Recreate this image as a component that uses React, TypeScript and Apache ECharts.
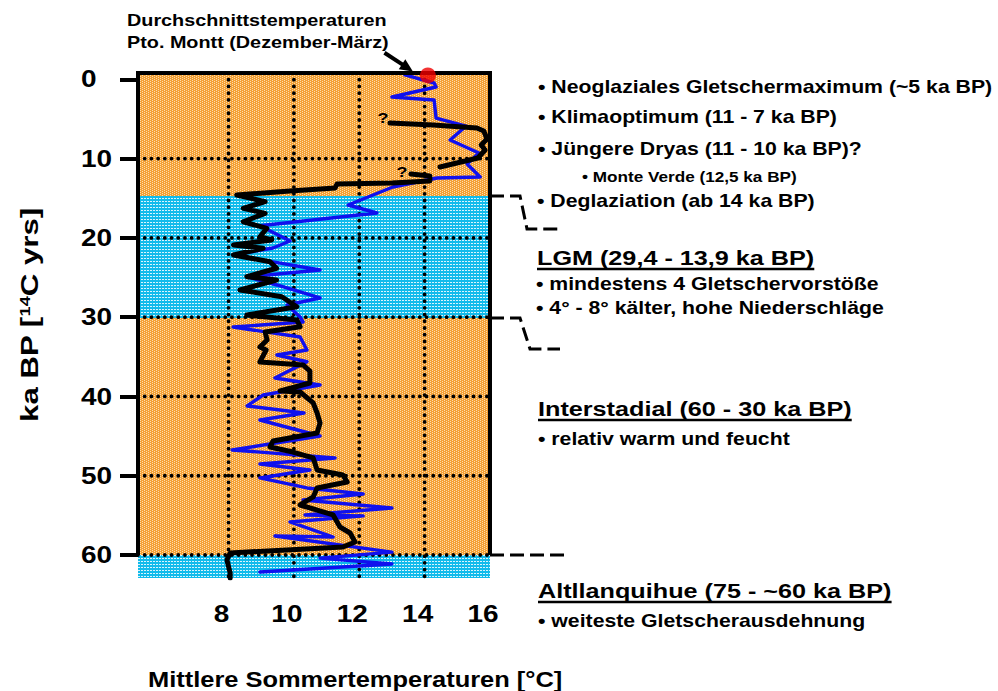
import React, { useEffect, useRef } from 'react';
import * as echarts from 'echarts';

// ---- axes ----------------------------------------------------------------
const tempMin = 5.23;
const tempMax = 16;
const ageMin = -0.8;
const ageMax = 62.9;
const tempTicks = [8, 10, 12, 14, 16];
const ageTicks = [0, 10, 20, 30, 40, 50, 60];
const tempGrid = [8, 10, 12, 14];
const ageGrid = [10, 20, 30, 40, 50, 60];
const frameBottom = 60;

// ---- climate zones (ka BP) -------------------------------------------------
const zoneFrom = [ageMin, 14.7, 30.1, 60.0];
const zoneTo = [14.7, 30.1, 60.0, ageMax];
const zoneCold = [0, 1, 0, 1];

// ---- blue curve: summer temperature [°C] vs. age [ka BP] -------------------
const blueTemp = [13.40, 14.29, 14.35, 13.00, 14.29, 14.35, 15.27, 14.78, 15.66, 15.30, 15.70, 14.38, 13.03, 11.66, 12.54, 8.96, 9.88, 9.36, 8.14, 10.80, 8.57, 9.48, 10.80, 9.79, 10.19, 10.28, 8.14, 10.19, 10.40, 9.48, 10.40, 9.42, 10.80, 9.06, 8.57, 10.31, 8.96, 10.80, 8.11, 11.26, 8.96, 10.49, 8.96, 10.40, 12.12, 10.28, 13.00, 10.34, 12.12, 9.88, 11.20, 9.42, 13.00, 10.80, 13.00, 8.96];
const blueAge = [-0.55, 0.46, 0.97, 2.23, 2.61, 4.88, 5.89, 7.65, 9.29, 10.68, 12.32, 12.44, 13.58, 15.85, 16.86, 18.47, 20.39, 21.27, 22.16, 24.05, 24.93, 25.94, 27.58, 28.46, 29.97, 30.6, 31.24, 32.5, 34.14, 34.77, 35.62, 37.67, 38.55, 39.82, 41.2, 42.09, 42.97, 44.99, 46.75, 47.76, 48.52, 49.28, 50.28, 51.54, 52.3, 53.06, 54.07, 54.95, 55.07, 55.83, 57.73, 57.6, 59.64, 60.39, 61.13, 62.14];

// ---- black curve, Holocene part ("?") -------------------------------------
const blackTempA = [12.94, 14.26, 15.60, 15.81, 15.91, 15.73, 15.85, 15.63, 14.47];
const blackAgeA = [5.50, 5.76, 6.14, 6.52, 7.52, 8.28, 8.91, 9.92, 11.06];

// ---- black curve, late glacial to 62 ka ------------------------------------
const blackTempB = [13.58, 14.16, 14.16, 13.00, 11.32, 11.26, 9.88,
  8.25, 9.12, 8.45, 9.12, 8.45, 9.17, 8.96, 9.32, 8.15, 9.06, 8.15, 9.27, 9.47, 8.56, 9.47, 8.35, 9.63, 10.09, 8.56, 10.09, 10.19,
  9.12, 9.18, 8.96, 9.15, 8.96, 10.28, 10.49, 10.49, 9.58, 10.19, 10.59, 10.71, 10.80, 10.71, 9.36, 9.27, 9.97, 10.59, 10.71, 11.50, 11.63, 10.71, 10.59, 10.19, 10.89, 11.20, 11.41, 11.72, 11.87, 11.50, 8.05, 7.95, 8.05, 8.05];
const blackAgeB = [11.94, 12.19, 12.82, 13.07, 13.20, 13.70, 14.08,
  14.59, 15.43, 16.27, 16.90, 17.96, 18.79, 19.85, 20.26, 20.90, 21.31, 22.16, 23.00, 23.83, 24.89, 25.31, 26.57, 27.42, 28.68, 29.72, 30.36, 31.20,
  31.87, 32.88, 33.77, 34.14, 35.65, 36.03, 36.79, 38.30, 39.31, 39.44, 40.82, 42.09, 43.35, 44.61, 45.62, 46.37, 47.01, 47.76, 49.28, 49.91, 50.79, 51.54, 52.68, 53.69, 54.57, 54.95, 56.47, 57.22, 58.36, 58.99, 59.74, 60.63, 62.27, 62.90];

// present-day mean (Dec–Mar), Puerto Montt
const monttTemp = [14.1];
const monttAge = [-0.5];

// ---- text -------------------------------------------------------------------
const noteTexts = [
  '• Neoglaziales Gletschermaximum (~5 ka BP)',
  '• Klimaoptimum (11 - 7 ka BP)',
  '• Jüngere Dryas (11 - 10 ka BP)?',
  '• Monte Verde (12,5 ka BP)',
  '• Deglaziation (ab 14 ka BP)',
  'LGM (29,4 - 13,9 ka BP)',
  '• mindestens 4 Gletschervorstöße',
  '• 4° - 8° kälter, hohe Niederschläge',
  'Interstadial (60 - 30 ka BP)',
  '• relativ warm und feucht',
  'Altllanquihue (75 - ~60 ka BP)',
  '• weiteste Gletscherausdehnung',
];
const noteX = [538, 538, 538, 582, 537, 537, 536, 536, 538, 538, 538, 538];
const noteY = [87, 117, 149, 177, 201, 258, 284, 308, 409, 439, 591, 621];
const noteSize = [17.7, 17.7, 17.7, 14.3, 17.7, 21, 17.7, 17.7, 21, 17.7, 21, 17.7];
const noteUnderline = [0, 0, 0, 0, 0, 1, 0, 0, 1, 0, 1, 0];

const FONT = '"Liberation Sans", Arial, Helvetica, sans-serif';
const SX = 1.2; // lettering is set wide
const INK = '#000';

function makePattern(size: number, base: string, dot: string, dots: number[][]) {
  const c = document.createElement('canvas');
  c.width = size;
  c.height = size;
  const ctx = c.getContext('2d')!;
  ctx.fillStyle = base;
  ctx.fillRect(0, 0, size, size);
  ctx.fillStyle = dot;
  dots.forEach(([x, y]) => ctx.fillRect(x, y, 1, 1));
  return { image: c, repeat: 'repeat', imageWidth: size, imageHeight: size } as any;
}

const measureCtx = typeof document !== 'undefined' ? document.createElement('canvas').getContext('2d') : null;
function textWidth(text: string, size: number) {
  if (!measureCtx) return text.length * size * 0.6;
  measureCtx.font = `bold ${size}px ${FONT}`;
  return measureCtx.measureText(text).width;
}

function wideText(text: string, x: number, y: number, size: number, align = 'left', extra: any = {}) {
  return {
    type: 'text',
    x,
    y,
    scaleX: SX,
    z: 20,
    style: { text, font: `bold ${size}px ${FONT}`, fill: INK, align, verticalAlign: 'middle' },
    ...extra,
  };
}

function buildOption() {
  const warm = makePattern(4, '#F5A033', '#FBDDB0', [[0, 0], [2, 1], [0, 2], [2, 3]]);
  const cold = makePattern(3, '#12BBEB', '#D8F4FD', [[0, 0], [1, 0]]);
  const dotStyle = { stroke: '#000', lineWidth: 3.8, lineDash: [0.01, 6.7], lineCap: 'round' };

  return {
    animation: false,
    grid: { left: 138, top: 73, width: 352, height: 505 },
    xAxis: {
      type: 'value',
      min: tempMin,
      max: tempMax,
      axisLine: { show: false },
      axisTick: { show: true, customValues: tempTicks, length: 14, lineStyle: { color: '#000', width: 4 } },
      axisLabel: { show: false },
      splitLine: { show: false },
    },
    yAxis: {
      type: 'value',
      inverse: true,
      min: ageMin,
      max: ageMax,
      axisLine: { show: false },
      axisTick: { show: true, customValues: ageTicks, length: 18, lineStyle: { color: '#000', width: 4 } },
      axisLabel: { show: false },
      splitLine: { show: false },
    },
    series: [
      {
        type: 'custom',
        z: 1,
        silent: true,
        data: zoneFrom.map((f, i) => [f, zoneTo[i], zoneCold[i]]),
        renderItem: (_p: any, api: any) => {
          const a = api.coord([tempMin, api.value(0)]);
          const b = api.coord([tempMax, api.value(1)]);
          return {
            type: 'rect',
            shape: { x: a[0], y: a[1], width: b[0] - a[0], height: b[1] - a[1] },
            style: { fill: api.value(2) ? cold : warm },
          };
        },
      },
      {
        type: 'custom',
        z: 2,
        silent: true,
        data: tempGrid.map((t) => [t, ageMin]),
        renderItem: (_p: any, api: any) => {
          const p0 = api.coord([api.value(0), ageMin]);
          const p1 = api.coord([api.value(0), ageMax]);
          return { type: 'line', shape: { x1: p0[0], y1: p0[1], x2: p1[0], y2: p1[1] }, style: dotStyle };
        },
      },
      {
        type: 'custom',
        z: 2,
        silent: true,
        data: ageGrid.map((a) => [tempMin, a]),
        renderItem: (_p: any, api: any) => {
          const p0 = api.coord([tempMin, api.value(1)]);
          const p1 = api.coord([tempMax, api.value(1)]);
          return { type: 'line', shape: { x1: p0[0], y1: p0[1], x2: p1[0], y2: p1[1] }, style: dotStyle };
        },
      },
      {
        type: 'line',
        z: 3,
        silent: true,
        symbol: 'none',
        data: blueTemp.map((t, i) => [t, blueAge[i]]),
        lineStyle: { color: '#1010EE', width: 3.4, join: 'round', cap: 'round' },
      },
      {
        type: 'line',
        z: 4,
        silent: true,
        symbol: 'none',
        data: blackTempA.map((t, i) => [t, blackAgeA[i]]),
        lineStyle: { color: '#000', width: 5, join: 'round', cap: 'round' },
      },
      {
        type: 'line',
        z: 4,
        silent: true,
        symbol: 'none',
        data: blackTempB.map((t, i) => [t, blackAgeB[i]]),
        lineStyle: { color: '#000', width: 5, join: 'round', cap: 'round' },
      },
      {
        type: 'custom',
        z: 5,
        silent: true,
        data: [[tempMin, frameBottom]],
        renderItem: (_p: any, api: any) => {
          const bl = api.coord([tempMin, frameBottom]);
          const tl = api.coord([tempMin, ageMin]);
          const tr = api.coord([tempMax, ageMin]);
          const br = api.coord([tempMax, frameBottom]);
          return {
            type: 'polyline',
            shape: { points: [bl, tl, tr, br] },
            style: { stroke: '#000', lineWidth: 4, fill: null, lineJoin: 'miter' },
          };
        },
      },
      {
        type: 'scatter',
        z: 6,
        silent: true,
        clip: false,
        symbolSize: 16,
        data: monttTemp.map((t, i) => [t, monttAge[i]]),
        itemStyle: { color: '#F00000' },
      },
    ],
  };
}

function buildGraphics(chart: any) {
  const px = (t: number, a: number) => chart.convertToPixel({ gridIndex: 0 }, [t, a]) as number[];
  const els: any[] = [];

  // axis labels
  tempTicks.forEach((t) => {
    const p = px(t, ageMax);
    els.push(wideText(String(t), p[0] - 7, 614, 23.3, 'center'));
  });
  ageTicks.forEach((a) => {
    const p = px(tempMin, a);
    els.push(wideText(String(a), 81, p[1], 23.3, 'left'));
  });

  // axis titles
  els.push(wideText('Mittlere Sommertemperaturen [°C]', 148, 680, 21.2, 'left'));
  els.push({
    type: 'text',
    x: 30,
    y: 315,
    rotation: Math.PI / 2,
    scaleX: 1.3,
    z: 20,
    style: {
      text: '{n|ka BP [}{s|14}{n|C yrs]}',
      align: 'center',
      verticalAlign: 'middle',
      rich: {
        n: { font: `bold 24px ${FONT}`, fill: INK },
        s: { font: `bold 14px ${FONT}`, fill: INK, verticalAlign: 'top' },
      },
    },
  });

  // Puerto Montt note and arrow
  els.push(wideText('Durchschnittstemperaturen', 127, 21, 16.5, 'left'));
  els.push(wideText('Pto. Montt (Dezember-März)', 127, 43, 16.5, 'left'));
  const tip = px(monttTemp[0], monttAge[0]);
  const tx = tip[0] - 15;
  const ty = tip[1] - 4;
  const dx = 0.836;
  const dy = 0.548;
  els.push({
    type: 'line',
    z: 20,
    shape: { x1: tx - 34 * dx, y1: ty - 34 * dy, x2: tx - 10 * dx, y2: ty - 10 * dy },
    style: { stroke: '#000', lineWidth: 4 },
  });
  els.push({
    type: 'polygon',
    z: 20,
    shape: {
      points: [
        [tx, ty],
        [tx - 13 * dx - 6 * dy, ty - 13 * dy + 6 * dx],
        [tx - 13 * dx + 6 * dy, ty - 13 * dy - 6 * dx],
      ],
    },
    style: { fill: '#000' },
  });

  // question marks at the start of the black curve parts
  const qa = px(blackTempA[0], blackAgeA[0]);
  const qb = px(blackTempB[0], blackAgeB[0]);
  els.push(wideText('?', qa[0] - 7, qa[1] - 5, 15, 'center'));
  els.push(wideText('?', qb[0] - 9, qb[1] - 2, 15, 'center'));

  // period notes
  noteTexts.forEach((t, i) => {
    els.push(wideText(t, noteX[i], noteY[i], noteSize[i], 'left'));
    if (noteUnderline[i]) {
      const w = textWidth(t, noteSize[i]) * SX;
      els.push({
        type: 'line',
        z: 20,
        shape: { x1: noteX[i], y1: noteY[i] + 11, x2: noteX[i] + w, y2: noteY[i] + 11 },
        style: { stroke: INK, lineWidth: 2.5 },
      });
    }
  });

  // dashed leaders from the zone boundaries
  const right = px(tempMax, 0)[0];
  const yA = px(tempMax, zoneTo[0])[1];
  const yB = px(tempMax, zoneTo[1])[1];
  const yC = px(tempMax, zoneTo[2])[1];
  const dash = { stroke: '#000', lineWidth: 3, lineDash: [14, 6], fill: null };
  els.push({ type: 'polyline', z: 20, shape: { points: [[right, yA], [right + 30, yA], [right + 37, yA + 33], [right + 70, yA + 33]] }, style: dash });
  els.push({ type: 'polyline', z: 20, shape: { points: [[right, yB], [right + 30, yB], [right + 40, yB + 31], [right + 70, yB + 31]] }, style: dash });
  els.push({ type: 'polyline', z: 20, shape: { points: [[right, yC], [right + 75, yC]] }, style: dash });

  return els;
}

export default function App() {
  const ref = useRef<HTMLDivElement>(null);
  useEffect(() => {
    const chart = echarts.init(ref.current!, null, { renderer: 'svg' });
    chart.setOption(buildOption() as any);
    chart.setOption({ graphic: buildGraphics(chart) } as any);
    return () => chart.dispose();
  }, []);
  return (
    <div
      ref={ref}
      style={{ position: 'absolute', left: 0, top: 0, width: 998, height: 691, background: '#fff' }}
    />
  );
}
